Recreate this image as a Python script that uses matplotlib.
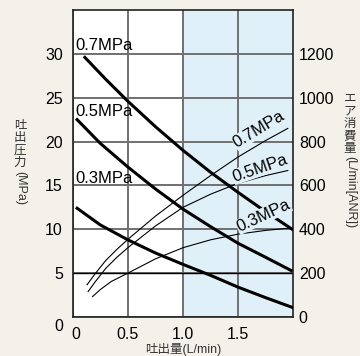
import matplotlib.pyplot as plt
import numpy as np
from matplotlib.transforms import ScaledTranslation

plt.rcParams['font.family'] = ['Liberation Sans', 'Noto Sans CJK JP']

# discharge pressure (MPa) vs flow (L/min)
x_p07 = [0.11, 0.3, 0.5, 0.75, 1.0, 1.25, 1.5, 1.75, 1.99]
y_p07 = [29.6, 27.1, 24.6, 21.7, 19.0, 16.5, 14.2, 12.0, 10.0]
x_p05 = [0.04, 0.25, 0.5, 0.75, 1.0, 1.25, 1.5, 1.75, 1.98]
y_p05 = [22.5, 19.8, 17.1, 14.6, 12.3, 10.3, 8.4, 6.8, 5.3]
x_p03 = [0.04, 0.25, 0.5, 0.75, 1.0, 1.25, 1.5, 1.75, 1.99]
y_p03 = [12.4, 10.5, 8.8, 7.3, 6.0, 4.75, 3.4, 2.2, 1.1]

# air consumption (L/min [ANR])
x_a07 = [0.13, 0.2, 0.3, 0.4, 0.5, 0.75, 1.0, 1.25, 1.5, 1.75, 1.95]
y_a07 = [147, 195, 258, 308, 354, 460, 555, 645, 730, 805, 860]
x_a05 = [0.14, 0.2, 0.3, 0.4, 0.5, 0.75, 1.0, 1.25, 1.5, 1.75, 1.95]
y_a05 = [116, 158, 222, 272, 316, 415, 500, 560, 610, 645, 668]
x_a03 = [0.18, 0.25, 0.35, 0.5, 0.75, 1.0, 1.25, 1.5, 1.75, 1.96]
y_a03 = [93, 125, 162, 200, 265, 316, 352, 378, 395, 405]

xticks = [0, 0.5, 1.0, 1.5]
xticklabels = ['0', '0.5', '1.0', '1.5']
yticks = [0, 5, 10, 15, 20, 25, 30]
y2ticks = [0, 200, 400, 600, 800, 1000, 1200]

bg = '#f3f1ea'
blue = '#dff0f9'
grid_c = '#707070'

fig = plt.figure(figsize=(3.6, 3.56), dpi=100, facecolor=bg)
ax = fig.add_axes([72.7 / 360, 39 / 356, (293.3 - 72.7) / 360, 307 / 356])
ax.set_facecolor('white')
ax.set_xlim(0, 2)
ax.set_ylim(0, 35)
ax.axvspan(1.0, 2.0, color=blue, zorder=0, lw=0)

ax.set_xticks(xticks)
ax.set_xticklabels(xticklabels)
ax.set_yticks(yticks)
ax.tick_params(length=0, labelsize=11.5, pad=7)
ax.grid(True, color=grid_c, lw=1.4, zorder=1)
ax.set_axisbelow(True)
ax.axhline(5, color='black', lw=1.0, zorder=1.5)
for s in ax.spines.values():
    s.set_color('#222222')
    s.set_linewidth(1.2)

ax.plot(x_p07, y_p07, color='black', lw=2.2, zorder=3)
ax.plot(x_p05, y_p05, color='black', lw=2.2, zorder=3)
ax.plot(x_p03, y_p03, color='black', lw=2.2, zorder=3)

ax.text(0.02, 31.0, '0.7MPa', fontsize=12, ha='left', va='center')
ax.text(0.02, 23.4, '0.5MPa', fontsize=12, ha='left', va='center')
ax.text(0.02, 15.8, '0.3MPa', fontsize=12, ha='left', va='center')

# shift the "0" labels like the original
fig.canvas.draw()
ly = ax.get_yticklabels()[0]
ly.set_transform(ly.get_transform() + ScaledTranslation(0, -0.08, fig.dpi_scale_trans))
lx = ax.get_xticklabels()[0]
lx.set_transform(lx.get_transform() + ScaledTranslation(0.035, 0, fig.dpi_scale_trans))

ax2 = ax.twinx()
ax2.set_ylim(0, 1400)
ax2.set_yticks(y2ticks)
ax2.tick_params(length=0, labelsize=11.5, pad=4)
for s in ax2.spines.values():
    s.set_visible(False)

ax2.plot(x_a07, y_a07, color='black', lw=0.8, zorder=2)
ax2.plot(x_a05, y_a05, color='black', lw=0.8, zorder=2)
ax2.plot(x_a03, y_a03, color='black', lw=0.8, zorder=2)

lab_box = dict(facecolor=blue, edgecolor='none', pad=0.3)
ax2.text(1.69, 855, '0.7MPa', fontsize=12, rotation=31, ha='center', va='center',
         bbox=lab_box, zorder=5)
ax2.text(1.70, 678, '0.5MPa', fontsize=12, rotation=19, ha='center', va='center',
         bbox=lab_box, zorder=5)
ax2.text(1.73, 462, '0.3MPa', fontsize=12, rotation=25, ha='center', va='center',
         bbox=lab_box, zorder=5)

fig.text(183 / 360, 1 - 349 / 356, '吐出量(L/min)', fontsize=9, ha='center', va='center',
         color='#333333')


def vlabel(xpx, top_px, chars, rest):
    pitch = 12.4
    for i, c in enumerate(chars):
        fig.text(xpx / 360, 1 - (top_px + i * pitch) / 356, c, fontsize=9,
                 ha='center', va='top', color='#333333')
    fig.text(xpx / 360, 1 - (top_px + len(chars) * pitch + 1) / 356, rest,
             fontsize=9, rotation=-90, ha='center', va='top', color='#333333')


vlabel(20, 120, '吐出圧力', '(MPa)')
vlabel(350, 93, 'エア消費量', '(L/min[ANR])')

fig.savefig('out.png', dpi=100, facecolor=bg)
